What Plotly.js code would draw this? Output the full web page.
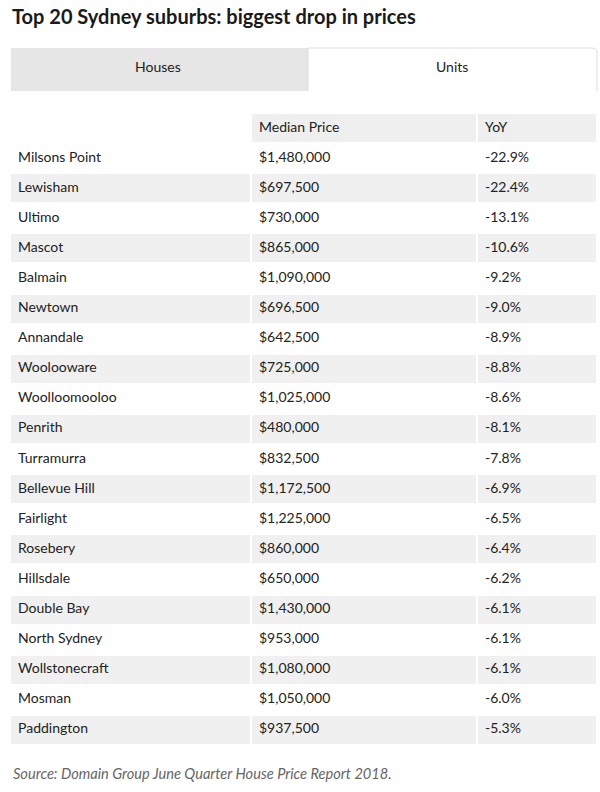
<!DOCTYPE html>
<html>
<head>
<meta charset="utf-8">
<script src="https://cdn.plot.ly/plotly-3.0.1.min.js"></script>
<style>html,body{margin:0;padding:0;background:#fff;}#chart{width:600px;height:792px;}</style>
</head>
<body>
<div id="chart"></div>
<script>
const suburbs = ["Milsons Point","Lewisham","Ultimo","Mascot","Balmain","Newtown","Annandale","Woolooware","Woolloomooloo","Penrith","Turramurra","Bellevue Hill","Fairlight","Rosebery","Hillsdale","Double Bay","North Sydney","Wollstonecraft","Mosman","Paddington"];
const medianPrice = [1480000,697500,730000,865000,1090000,696500,642500,725000,1025000,480000,832500,1172500,1225000,860000,650000,1430000,953000,1080000,1050000,937500];
const yoy = [-22.9,-22.4,-13.1,-10.6,-9.2,-9.0,-8.9,-8.8,-8.6,-8.1,-7.8,-6.9,-6.5,-6.4,-6.2,-6.1,-6.1,-6.1,-6.0,-5.3];
const headers = ["", "Median Price", "YoY"];
const tabs = ["Houses", "Units"];

const FONT = "Lato, 'Open Sans', sans-serif";
const W = 600, H = 792;
const px = x => x / W, py = y => 1 - y / H;

const priceText = medianPrice.map(v => "$" + v.toLocaleString("en-US"));
const yoyText = yoy.map(v => v.toFixed(1) + "%");
const rowFill = suburbs.map((_, i) => i % 2 === 0 ? "#ffffff" : "#f0f0f0");

const trace = {
  type: "table",
  domain: {x: [px(10), px(597)], y: [0.02, py(113)]},
  columnwidth: [241, 226, 120],
  header: {
    values: headers,
    align: "left",
    height: 30,
    fill: {color: [["#ffffff"], ["#efefef"], ["#efefef"]]},
    line: {color: "#ffffff", width: 2},
    font: {family: FONT, size: 14, color: "#222"}
  },
  cells: {
    values: [suburbs, priceText, yoyText],
    align: "left",
    height: 30.1,
    fill: {color: [rowFill, rowFill, rowFill]},
    line: {color: "#ffffff", width: 2},
    font: {family: FONT, size: 14, color: "#222"}
  }
};

const layout = {
  width: W, height: H,
  margin: {l: 0, r: 0, t: 0, b: 0},
  paper_bgcolor: "#ffffff",
  plot_bgcolor: "#ffffff",
  showlegend: false,
  title: {
    text: "<b>Top 20 Sydney suburbs: biggest drop in prices</b>",
    x: px(12), xanchor: "left", y: py(17), yanchor: "middle",
    font: {family: FONT, size: 20, color: "#1a1a1a"}
  },
  shapes: [
    {type: "rect", xref: "paper", yref: "paper", x0: px(11), x1: px(308), y0: py(91), y1: py(48),
     fillcolor: "#e6e6e6", line: {width: 0}, layer: "below"},
    {type: "path", xref: "paper", yref: "paper",
     path: `M ${px(308)} ${py(91)} L ${px(308)} ${py(48)} L ${px(592)} ${py(48)} Q ${px(597)} ${py(48)} ${px(597)} ${py(53)} L ${px(597)} ${py(91)}`,
     fillcolor: "#ffffff", line: {color: "#dddddd", width: 1}, layer: "below"}
  ],
  annotations: [
    {xref: "paper", yref: "paper", x: px(158), y: py(66.5), text: tabs[0], showarrow: false,
     xanchor: "center", yanchor: "middle", font: {family: FONT, size: 14, color: "#222"}},
    {xref: "paper", yref: "paper", x: px(452), y: py(66.5), text: tabs[1], showarrow: false,
     xanchor: "center", yanchor: "middle", font: {family: FONT, size: 14, color: "#222"}},
    {xref: "paper", yref: "paper", x: px(11), y: py(773), text: "<i>Source: Domain Group June Quarter House Price Report 2018.</i>",
     showarrow: false, xanchor: "left", yanchor: "middle", font: {family: FONT, size: 14.6, color: "#666"}}
  ]
};

Plotly.newPlot("chart", [trace], layout, {displayModeBar: false, staticPlot: true});
</script>
</body>
</html>
